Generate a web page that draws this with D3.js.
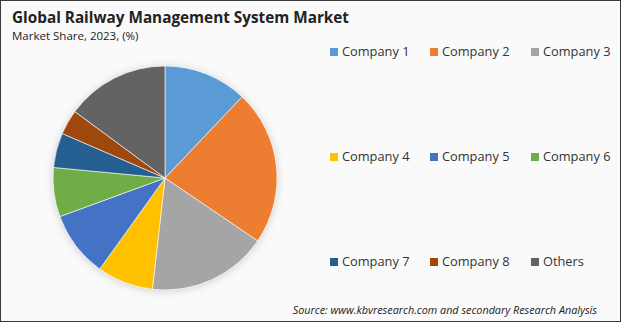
<!DOCTYPE html>
<html><head><meta charset="utf-8">
<script src="https://cdn.jsdelivr.net/npm/d3@7"></script>
<style>html,body{margin:0;padding:0;background:#fff;}svg{display:block;}</style>
</head><body>
<script>
const categories = ["Company 1","Company 2","Company 3","Company 4","Company 5","Company 6","Company 7","Company 8","Others"];
const shares = [12.1, 22.4, 17.3, 8.1, 9.5, 7.1, 5.0, 3.6, 14.9];
const colors = ["#5B9BD5","#ED7D31","#A5A5A5","#FFC000","#4472C4","#70AD47","#255E91","#9E480E","#636363"];

const W = 621, H = 322;
const svg = d3.select("body").append("svg").attr("width", W).attr("height", H);
const defs = svg.append("defs");
const f = defs.append("filter").attr("id","sh").attr("x","-20%").attr("y","-20%").attr("width","140%").attr("height","140%");
f.append("feDropShadow").attr("dx",0).attr("dy",1).attr("stdDeviation",4).attr("flood-color","#000").attr("flood-opacity",0.18);

svg.append("rect").attr("x",0.5).attr("y",0.5).attr("width",W-1).attr("height",H-1)
  .attr("fill","#fafafa").attr("stroke","#3a3a3a").attr("stroke-width",1);

svg.append("text").attr("x",12).attr("y",23).attr("font-family","Open Sans, sans-serif")
  .attr("font-size",15.3).attr("font-weight","bold").attr("fill","#222").text("Global Railway Management System Market");
svg.append("text").attr("x",12).attr("y",40).attr("font-family","Open Sans, sans-serif")
  .attr("font-size",11.5).attr("fill","#222").text("Market Share, 2023, (%)");

const data = categories.map((c,i)=>({name:c, value:shares[i], color:colors[i]}));
const pie = d3.pie().value(d=>d.value).sort(null);
const arc = d3.arc().innerRadius(0).outerRadius(112);
const color = d3.scaleOrdinal().domain(categories).range(colors);
const g = svg.append("g").attr("transform","translate(165,178)");
g.append("circle").attr("r",112).attr("fill","#fff").attr("filter","url(#sh)");
g.selectAll("path").data(pie(data)).join("path")
  .attr("d", arc).attr("fill", d=>color(d.data.name))
  .attr("stroke","#fff").attr("stroke-width",0.6);

const colX = [330, 430, 531];
const rowY = [52, 157, 262];
const lg = svg.append("g");
categories.forEach((c,i)=>{
  const x = colX[i%3], y = rowY[Math.floor(i/3)];
  lg.append("rect").attr("x",x).attr("y",y-4).attr("width",8).attr("height",8).attr("fill",color(c));
  lg.append("text").attr("x",x+12).attr("y",y).attr("dy","0.35em")
    .attr("font-family","Open Sans, sans-serif").attr("font-size",12.8).attr("fill","#333").text(c);
});

svg.append("text").attr("x",597).attr("y",314).attr("text-anchor","end")
  .attr("font-family","Open Sans, sans-serif").attr("font-style","italic")
  .attr("font-size",10.8).attr("fill","#222").text("Source: www.kbvresearch.com and secondary Research Analysis");
</script>
</body></html>
